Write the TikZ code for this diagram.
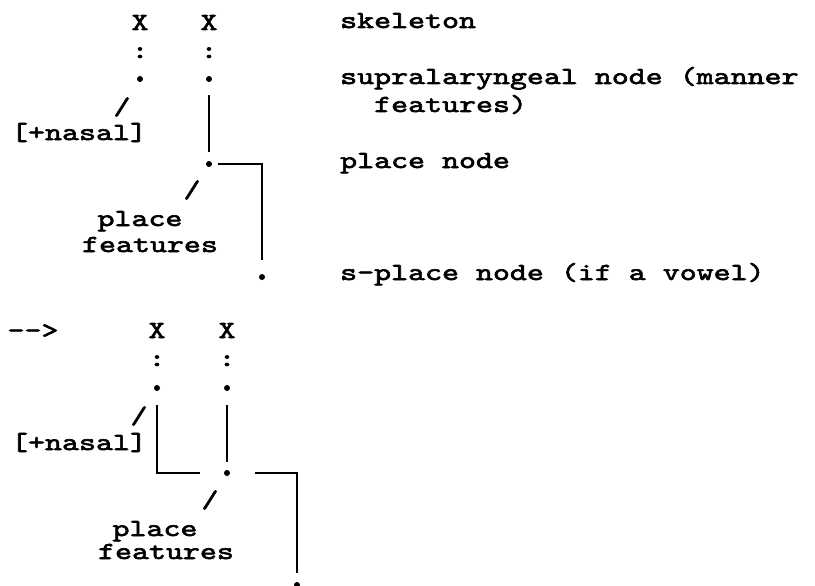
\documentclass[tikz,border=0pt]{standalone}
\usepackage{fontspec}
\usepackage{tikz}
\setmonofont[Extension=.otf, FakeStretch=1.32, FakeBold=2.5]{lmmono10-regular}
\tikzset{every node/.style={font=\ttfamily}}

\begin{document}
\begin{tikzpicture}[x=1pt, y=-1pt, every node/.style={font=\ttfamily\fontsize{24.5}{28}\selectfont, inner sep=0pt}]
    % Define styles
    \tikzstyle{blob} = [circle, fill=black, minimum size=6pt, inner sep=0pt]
    \tikzstyle{word} = [anchor=base]
    \tikzstyle{gloss} = [anchor=base west]
    \tikzstyle{link} = [line width=2.4pt]

    \useasboundingbox (0,0) rectangle (815,586);

    % Top: before
    \node (xa) [word] at (140, 30) {X};
    \node (xb) [word] at (209, 30) {X};
    \node (ca) [word] at (140, 58) {:};
    \node (cb) [word] at (209, 58) {:};
    \node (sla) [blob] at (140, 79) {};
    \node (slb) [blob] at (209, 79) {};
    \node (sa) at (122, 107) {/};
    \node (nasal) [word] at (79, 140) {[+nasal]};
    \node (pl) [blob] at (209, 164) {};
    \node (sb) at (192, 190) {/};
    \node (pfa) [word] at (140, 226) {place};
    \node (pfb) [word] at (150, 252) {features};
    \node (spl) [blob] at (262, 277) {};

    % Glosses
    \node (skel) [gloss] at (340, 28) {skeleton};
    \node (supra) [gloss] at (340, 84) {supralaryngeal node (manner};
    \node (supraf) [gloss] at (374, 112) {features)};
    \node (place) [gloss] at (340, 168) {place node};
    \node (splace) [gloss] at (340, 280) {s-place node (if a vowel)};

    % Bottom: after
    \node (arr) [word] at (33, 338) {-{}->};
    \node (xc) [word] at (157, 338) {X};
    \node (xd) [word] at (227, 338) {X};
    \node (cc) [word] at (157, 366) {:};
    \node (cd) [word] at (227, 366) {:};
    \node (slc) [blob] at (157, 388) {};
    \node (sld) [blob] at (227, 388) {};
    \node (sc) at (139, 416) {/};
    \node (nasalb) [word] at (79, 450) {[+nasal]};
    \node (plb) [blob] at (227, 473) {};
    \node (sd) at (210, 500) {/};
    \node (pfc) [word] at (155, 536) {place};
    \node (pfd) [word] at (166, 559) {features};
    \node (splb) [blob] at (297, 585) {};

    % Top lines
    \draw [link, shorten <=13pt, shorten >=9pt] (slb) -- (pl);
    \draw [link, shorten <=6pt, shorten >=14pt] (pl) -| (spl);

    % Bottom lines
    \draw [link, shorten <=14pt, shorten >=24pt] (slc) |- (plb);
    \draw [link, shorten <=14pt, shorten >=8pt] (sld) -- (plb);
    \draw [link, shorten <=25pt, shorten >=9pt] (plb) -| (splb);
\end{tikzpicture}
\end{document}
